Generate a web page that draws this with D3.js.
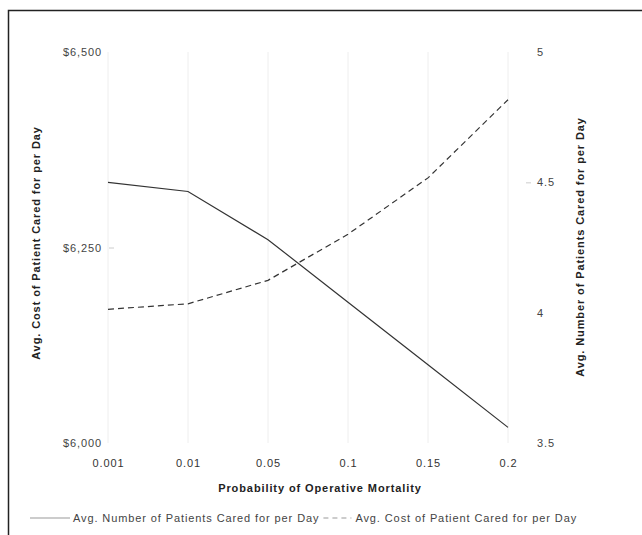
<!DOCTYPE html>
<html><head><meta charset="utf-8">
<script src="https://cdn.jsdelivr.net/npm/d3@7"></script>
<style>body{margin:0;background:#fff}svg{display:block;font-family:"Liberation Sans",Arial,sans-serif}</style>
</head><body><svg id="c" width="642" height="535"></svg>
<script>
const categories = ["0.001","0.01","0.05","0.1","0.15","0.2"];
const patients = [4.50, 4.465, 4.28, 4.04, 3.80, 3.56];
const cost = [6171, 6178, 6208, 6267, 6339, 6439];
const leftTicks = [6000, 6250, 6500];
const rightTicks = [3.5, 4, 4.5, 5];
const seriesNames = ["Avg. Number of Patients Cared for per Day", "Avg. Cost of Patient Cared for per Day"];

const LS = 0.9;
const svg = d3.select("#c");
svg.append("rect").attr("x",8.5).attr("y",10.5).attr("width",700).attr("height",600)
  .attr("fill","none").attr("stroke","#222").attr("stroke-width",1.5);

const x = d3.scalePoint().domain(categories).range([108,508]);
const yL = d3.scaleLinear().domain([6000,6500]).range([443,52]);
const yR = d3.scaleLinear().domain([3.5,5]).range([443,52]);

// gridlines
svg.append("g").selectAll("line").data(categories).join("line")
  .attr("x1",d=>x(d)).attr("x2",d=>x(d)).attr("y1",52).attr("y2",443)
  .attr("stroke","#eee").attr("stroke-width",1);

// left axis
const gL = svg.append("g").attr("transform","translate(108,0)")
  .call(d3.axisLeft(yL).tickValues(leftTicks).tickSize(0).tickPadding(6).tickFormat(d=>"$"+d3.format(",")(d)));
gL.select(".domain").remove();
gL.selectAll("text").attr("font-size",11).attr("letter-spacing",LS).attr("fill","#444");
gL.selectAll(".tick").filter(d=>d===6250).append("line").attr("x1",1).attr("x2",6).attr("stroke","#ccc");

// right axis
const gR = svg.append("g").attr("transform","translate(532,0)")
  .call(d3.axisRight(yR).tickValues(rightTicks).tickSize(0).tickPadding(5).tickFormat(d=>d3.format("")(d)));
gR.select(".domain").remove();
gR.selectAll("text").attr("font-size",11).attr("letter-spacing",LS).attr("fill","#444");
gR.selectAll(".tick").filter(d=>d===4.5).append("line").attr("x1",-6).attr("x2",-1).attr("stroke","#ccc");

// x axis
const gX = svg.append("g").attr("transform","translate(0,456)")
  .call(d3.axisBottom(x).tickSize(0).tickPadding(3));
gX.select(".domain").remove();
gX.selectAll("text").attr("font-size",11).attr("letter-spacing",LS).attr("fill","#333");

// titles
svg.append("text").attr("x",320).attr("y",492).attr("text-anchor","middle")
  .attr("font-size",11).attr("letter-spacing",LS).attr("font-weight","bold").attr("fill","#222").text("Probability of Operative Mortality");
svg.append("text").attr("transform","translate(40,243) rotate(-90)").attr("text-anchor","middle")
  .attr("font-size",11).attr("letter-spacing",LS).attr("font-weight","bold").attr("fill","#222").text("Avg. Cost of Patient Cared for per Day");
svg.append("text").attr("transform","translate(584,247) rotate(-90)").attr("text-anchor","middle")
  .attr("font-size",11).attr("letter-spacing",LS).attr("font-weight","bold").attr("fill","#222").text("Avg. Number of Patients Cared for per Day");

// lines
const lineP = d3.line().x((d,i)=>x(categories[i])).y(d=>yR(d));
const lineC = d3.line().x((d,i)=>x(categories[i])).y(d=>yL(d));
svg.append("path").datum(patients).attr("d",lineP).attr("fill","none").attr("stroke","#333").attr("stroke-width",1.2);
svg.append("path").datum(cost).attr("d",lineC).attr("fill","none").attr("stroke","#333").attr("stroke-width",1.2).attr("stroke-dasharray","6,4");

// legend
const lg = svg.append("g");
lg.append("line").attr("x1",30).attr("x2",70).attr("y1",518).attr("y2",518).attr("stroke","#999").attr("stroke-width",1);
const t1 = lg.append("text").attr("x",73).attr("y",522).attr("font-size",11).attr("letter-spacing",LS).attr("fill","#444").text(seriesNames[0]);
const w1 = t1.node().getComputedTextLength();
lg.append("line").attr("x1",73+w1+4).attr("x2",73+w1+32).attr("y1",518).attr("y2",518).attr("stroke","#999").attr("stroke-width",1).attr("stroke-dasharray","5,4");
lg.append("text").attr("x",73+w1+36).attr("y",522).attr("font-size",11).attr("letter-spacing",LS).attr("fill","#444").text(seriesNames[1]);
</script></body></html>
